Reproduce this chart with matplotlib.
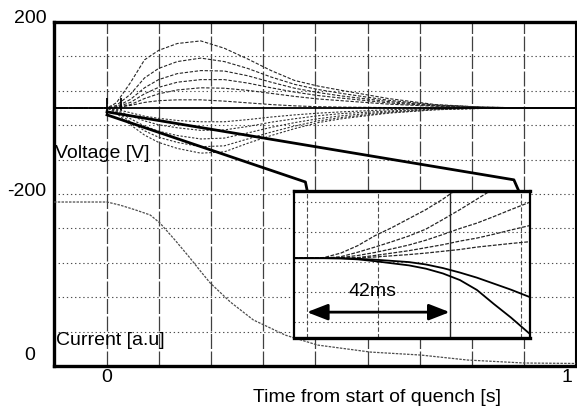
import matplotlib
matplotlib.use('Agg')
import matplotlib.pyplot as plt
from matplotlib.transforms import ScaledTranslation

plt.rcParams['font.family'] = ['Liberation Sans', 'DejaVu Sans']
plt.rcParams['font.size'] = 14

# time of the scope traces [s]
t = [-0.113, 0, 0.02, 0.05, 0.08, 0.11, 0.15, 0.2, 0.25, 0.3, 0.35,
     0.4, 0.45, 0.5, 0.6, 0.7, 0.8, 0.9, 1.0]

# voltage traces that swing positive [V]
v_up = [
    [0, 0, 12, 59, 112, 134, 150, 156, 139, 114, 87, 64, 51, 41, 22, 8, 2, 0, 0],
    [0, 0, 6, 32, 70, 92, 108, 116, 108, 92, 72, 55, 43, 34, 18, 7, 2, 0, 0],
    [0, 0, 3, 20, 47, 66, 80, 87, 86, 75, 60, 46, 36, 28, 15, 6, 2, 0, 0],
    [0, 0, 2, 13, 33, 48, 60, 66, 66, 58, 47, 37, 29, 23, 12, 5, 1, 0, 0],
    [0, 0, 1, 8, 22, 33, 42, 47, 46, 41, 34, 27, 21, 17, 9, 4, 1, 0, 0],
    [0, 0, 1, 6, 13, 17, 19, 19, 16, 12, 8, 5, 3, 2, 1, 0, 0, 0, 0],
]
# voltage traces that swing negative [V]
v_down = [
    [0, 0, -12, -39, -63, -80, -94, -105, -102, -82, -64, -48, -34, -25, -12, -4, 0, 0, 0],
    [0, 0, -9, -32, -53, -68, -80, -90, -88, -72, -56, -42, -30, -22, -11, -4, -1, 0, 0],
    [0, 0, -7, -25, -42, -54, -64, -72, -70, -58, -45, -34, -25, -18, -9, -3, -1, 0, 0],
    [0, 0, -5, -18, -30, -39, -46, -52, -51, -43, -33, -25, -18, -13, -7, -2, 0, 0, 0],
    [0, 0, -3, -11, -19, -24, -29, -32, -32, -27, -21, -16, -12, -9, -4, -1, 0, 0, 0],
]
zero_t = [-0.113, 1.0]
zero_v = [0, 0]

# magnet current [a.u.]
t_cur = [-0.113, 0, 0.028, 0.06, 0.092, 0.113, 0.145, 0.177, 0.199, 0.22,
         0.263, 0.312, 0.38, 0.449, 0.562, 0.669, 0.769, 0.889, 1.0]
cur = [1.0, 1.0, 0.98, 0.95, 0.917, 0.865, 0.756, 0.641, 0.558, 0.481,
       0.359, 0.244, 0.147, 0.083, 0.038, 0.019, -0.013, -0.032, -0.035]

# zoom marker and connector lines (main axes, [s] / [V])
mark_t = [0, 0.03]
mark_lo = [-16, -5]
mark_hi = [23, 23]
conn_up_t = [0, 0.8675, 0.878]
conn_up_v = [-9, -167, -193]
conn_lo_t = [0, 0.423, 0.427]
conn_lo_v = [-16, -172, -193]

# inset: first milliseconds [ms] / [div]
t_ms = [-3.8, 5, 10, 15, 20, 25, 30, 35, 40, 45, 50, 55, 60, 65.6]
ins_up = [
    [0.13, 0.15, 0.3, 0.55, 0.88, 1.15, 1.45, 1.75, 2.1, 2.5, 2.9, 3.3, 3.7, 4.1],
    [0.13, 0.13, 0.18, 0.33, 0.5, 0.68, 0.87, 1.1, 1.42, 1.75, 2.1, 2.45, 2.8, 3.2],
    [0.13, 0.13, 0.15, 0.22, 0.32, 0.44, 0.57, 0.73, 0.92, 1.12, 1.3, 1.52, 1.75, 2.0],
    [0.13, 0.13, 0.13, 0.15, 0.22, 0.3, 0.38, 0.48, 0.58, 0.7, 0.8, 0.93, 1.07, 1.22],
    [0.13, 0.13, 0.13, 0.14, 0.17, 0.21, 0.25, 0.3, 0.36, 0.42, 0.5, 0.56, 0.62, 0.68],
]
ins_down = [
    [0.13, 0.13, 0.13, 0.11, 0.08, 0.04, 0.0, -0.08, -0.2, -0.35, -0.52, -0.72, -0.92, -1.17],
    [0.13, 0.13, 0.12, 0.09, 0.03, -0.04, -0.11, -0.22, -0.38, -0.6, -0.93, -1.4, -1.85, -2.4],
]
arrow_span = [0, 42]
ins_xgrid = [0, 21, 63]
ins_ygrid = [-2, -1, 0, 1, 2]

main_xgrid = [k / 9 for k in range(9)]
main_ygrid = [120, 40, -40, -120, -200, -280, -360, -440, -520]
ytick_v = [200, -200]
ytick_lbl = ['200', '-200']
xtick_t = [0, 1]
xtick_lbl = ['0', '1']

fig = plt.figure(figsize=(5.77, 4.15), dpi=100)
ax = fig.add_axes([0.0936, 0.118, 0.9047, 0.829])
ax.set_xlim(-0.113, 1.0)
ax.set_ylim(-600, 200)

for x in main_xgrid:
    ax.axvline(x, color='0.25', lw=0.9, ls=(0, (12, 2)), zorder=1)
for y in main_ygrid:
    ax.axhline(y, color='0.3', lw=0.8, ls=(0, (1.2, 2.5)), zorder=1)

for v in v_up:
    ax.plot(t, v, color='0.15', lw=0.8, ls=(0, (3, 1.5)), zorder=2)
for v in v_down:
    ax.plot(t, v, color='0.2', lw=0.8, ls=(0, (2, 1.5)), zorder=2)
ax.plot(zero_t, zero_v, color='black', lw=1.3, zorder=3)

ax.vlines(mark_t, mark_lo, mark_hi, color='black', lw=1.3, zorder=4)
ax.plot(conn_up_t, conn_up_v, color='black', lw=2.0, zorder=4)
ax.plot(conn_lo_t, conn_lo_v, color='black', lw=2.0, zorder=4)

ax.set_xticks(xtick_t)
ax.set_xticklabels(xtick_lbl)
ax.set_yticks(ytick_v)
ax.set_yticklabels(ytick_lbl)
ax.tick_params(length=0, labelsize=14)
ax.tick_params(axis='x', pad=2)
ax.tick_params(axis='y', pad=5.5)
shift = ScaledTranslation(0, 5 / 100, fig.dpi_scale_trans)
for lbl in ax.get_yticklabels():
    lbl.set_transform(lbl.get_transform() + shift)
last = ax.get_xticklabels()[-1]
last.set_ha('right')
last.set_transform(last.get_transform() + ScaledTranslation(-4 / 100, 0, fig.dpi_scale_trans))

for side, w in (('top', 2.4), ('bottom', 2.4), ('left', 2.4), ('right', 1.5)):
    ax.spines[side].set_linewidth(w)

ax.set_xlabel('Time from start of quench [s]', fontsize=14)
ax.xaxis.set_label_coords(0.619, -0.067)
ax.text(0.002, 0.619, 'Voltage [V]', transform=ax.transAxes,
        ha='left', va='center', fontsize=14, zorder=6)
ax.text(0.004, 0.0756, 'Current [a.u]', transform=ax.transAxes,
        ha='left', va='center', fontsize=14, zorder=6)

# current on its own scale
cax = ax.twinx()
cax.set_ylim(-0.0514, 2.154)
cax.plot(t_cur, cur, color='0.3', lw=0.9, ls=(0, (2, 1)), zorder=2)
cax.yaxis.tick_left()
cax.set_yticks([0])
cax.set_yticklabels(['0'])
cax.tick_params(length=0, labelsize=14, pad=13.5)
for lbl in cax.get_yticklabels():
    lbl.set_transform(lbl.get_transform() + shift)
for s in cax.spines.values():
    s.set_visible(False)

# inset
ins = fig.add_axes([0.5095, 0.1855, 0.409, 0.354], zorder=5)
ins.set_facecolor('white')
ins.set_xlim(-3.8, 65.6)
ins.set_ylim(-2.533, 2.367)
for x in ins_xgrid:
    ins.axvline(x, color='0.3', lw=0.8, ls=(0, (4, 2)), zorder=1)
ins.axvline(arrow_span[1], color='0.15', lw=1.0, zorder=1)
for y in ins_ygrid:
    ins.axhline(y, color='0.3', lw=0.8, ls=(0, (1.2, 2.5)), zorder=1)
for v in ins_up:
    ins.plot(t_ms, v, color='0.15', lw=0.9, ls=(0, (3, 1.2)), zorder=2)
for v in ins_down:
    ins.plot(t_ms, v, color='black', lw=1.3, zorder=3)
ins.annotate('', xy=(arrow_span[1], -1.67), xytext=(arrow_span[0], -1.67),
             arrowprops=dict(arrowstyle='<|-|>,head_length=0.9,head_width=0.35',
                             color='black', lw=2.0, shrinkA=0, shrinkB=0))
ins.text(19.4, -0.97, '42ms', ha='center', va='center', fontsize=14)
ins.set_xticks([])
ins.set_yticks([])
for side, w in (('top', 2.4), ('bottom', 2.4), ('left', 1.6), ('right', 1.6)):
    ins.spines[side].set_linewidth(w)

fig.savefig('out.png', dpi=100)
